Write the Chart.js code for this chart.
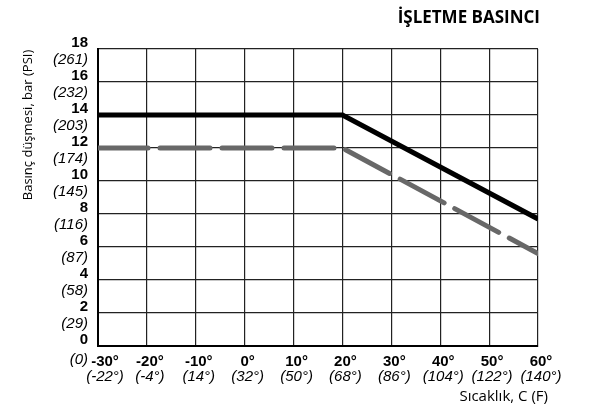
<!DOCTYPE html>
<html>
<head>
<meta charset="utf-8">
<script src="https://cdn.jsdelivr.net/npm/chart.js@4"></script>
<style>
  html, body { margin: 0; padding: 0; background: #fff; }
  #wrap { width: 592px; height: 406px; }
</style>
</head>
<body>
<div id="wrap"><canvas id="chart" width="592" height="406"></canvas></div>
<script>
// Operating pressure vs temperature

const tempC = [-30, 20, 60];
const pressureTop = [14, 14, 7.7];
const pressureDashed = [12, 12, 5.6];

const yTicks = [0, 2, 4, 6, 8, 10, 12, 14, 16, 18];
const yTickPsi = ['(0)', '(29)', '(58)', '(87)', '(116)', '(145)', '(174)', '(203)', '(232)', '(261)'];
const xTicks = [-30, -20, -10, 0, 10, 20, 30, 40, 50, 60];
const xTickF = ['(-22°)', '(-4°)', '(14°)', '(32°)', '(50°)', '(68°)', '(86°)', '(104°)', '(122°)', '(140°)'];

const titleText = 'İŞLETME BASINCI';
const yTitle = 'Basınç düşmesi, bar (PSI)';
const xTitle = 'Sıcaklık, C (F)';

function toPoints(xs, ys) {
  return xs.map(function(x, i) { return { x: x, y: ys[i] }; });
}

// draws the two-line tick labels and titles
const labelPlugin = {
  id: 'labels',
  afterDraw: function(chart) {
    const ctx = chart.ctx;
    const xs = chart.scales.x;
    const ys = chart.scales.y;
    ctx.save();
    ctx.fillStyle = '#000';
    ctx.textBaseline = 'middle';

    ctx.textAlign = 'right';
    yTicks.forEach(function(v, i) {
      const py = ys.getPixelForValue(v);
      ctx.font = 'bold 15px "Liberation Sans", Arial, sans-serif';
      ctx.fillText(String(v), 88, py - 6);
      ctx.font = 'italic 15px "Liberation Sans", Arial, sans-serif';
      ctx.fillText(yTickPsi[i], 88, py + (v === 0 ? 14 : 11));
    });

    ctx.textAlign = 'center';
    xTicks.forEach(function(v, i) {
      const px = xs.getPixelForValue(v) + (v === -30 ? 7 : 3);
      ctx.font = 'bold 15px "Liberation Sans", Arial, sans-serif';
      ctx.fillText(v + '°', px, 362);
      ctx.font = 'italic 15px "Liberation Sans", Arial, sans-serif';
      ctx.fillText(xTickF[i], px, 377);
    });

    ctx.font = '15px "Open Sans", sans-serif';
    ctx.textAlign = 'right';
    ctx.fillText(xTitle, 548, 397);

    ctx.font = 'bold 17px "Open Sans", sans-serif';
    ctx.fillText(titleText, 540, 18);

    ctx.translate(28, 125);
    ctx.rotate(-Math.PI / 2);
    ctx.textAlign = 'center';
    ctx.font = '13px "Open Sans", sans-serif';
    ctx.fillText(yTitle, 0, 0);
    ctx.restore();
  }
};

function drawChart() {
  new Chart(document.getElementById('chart'), {
    type: 'line',
    data: {
      datasets: [
        {
          data: toPoints(tempC, pressureDashed),
          borderColor: '#686868',
          borderWidth: 5,
          borderDash: [50, 12],
          borderCapStyle: 'round',
          pointRadius: 0,
          tension: 0
        },
        {
          data: toPoints(tempC, pressureTop),
          borderColor: '#000',
          borderWidth: 5,
          pointRadius: 0,
          tension: 0
        }
      ]
    },
    options: {
      responsive: false,
      animation: false,
      layout: {
        padding: { left: 98, right: 54, top: 49, bottom: 60 }
      },
      plugins: {
        legend: { display: false },
        tooltip: { enabled: false }
      },
      scales: {
        x: {
          type: 'linear',
          min: -30,
          max: 60,
          ticks: { stepSize: 10, display: false },
          grid: { color: '#222', lineWidth: 1.2, drawTicks: false },
          border: { color: '#000', width: 2 }
        },
        y: {
          min: 0,
          max: 18,
          ticks: { stepSize: 2, display: false },
          grid: { color: '#222', lineWidth: 1.2, drawTicks: false },
          border: { color: '#000', width: 2 }
        }
      }
    },
    plugins: [labelPlugin]
  });
}

Promise.all([
  document.fonts.load('15px "Open Sans"'),
  document.fonts.load('bold 17px "Open Sans"'),
  document.fonts.load('bold 15px "Liberation Sans"'),
  document.fonts.load('italic 15px "Liberation Sans"')
]).then(drawChart, drawChart);
</script>
</body>
</html>
